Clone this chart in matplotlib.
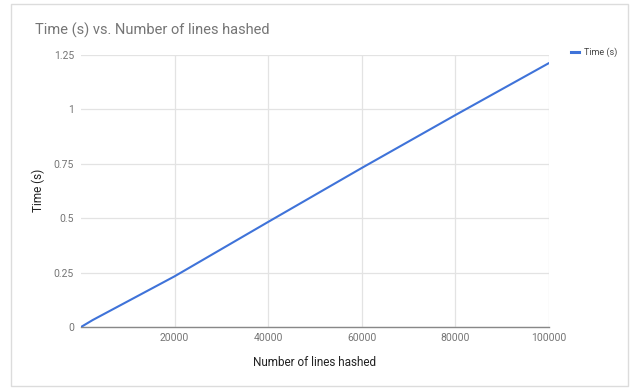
#!/usr/bin/env python3
"""Line chart: hashing time vs. number of lines hashed (Sheets-style)."""

from __future__ import annotations

import matplotlib

matplotlib.use("Agg")
import matplotlib.pyplot as plt
from matplotlib.patches import Rectangle

W, H, DPI = 632, 388, 100

lines_hashed = [0, 2500, 20000, 40000, 60000, 80000, 100000]
time_s = [0.0, 0.032, 0.233, 0.483, 0.731, 0.974, 1.213]
x_ticks = [20000, 40000, 60000, 80000, 100000]
y_ticks = [0, 0.25, 0.5, 0.75, 1.0, 1.25]
y_tick_labels = ["0", "0.25", "0.5", "0.75", "1", "1.25"]

TITLE = "Time (s) vs. Number of lines hashed"
X_LABEL = "Number of lines hashed"
Y_LABEL = "Time (s)"
SERIES = "Time (s)"

LINE_COLOR = "#3f73d9"
GRID_COLOR = "#e3e3e3"
TEXT_GRAY = "#757575"

AX_L, AX_R, AX_T, AX_B = 81, 549, 55, 327


def px(x: float, y: float) -> tuple[float, float]:
    """Pixel coords (top-left origin) -> figure fraction."""
    return x / W, 1 - y / H


def main() -> int:
    plt.rcParams["font.family"] = ["Roboto", "DejaVu Sans"]
    fig = plt.figure(figsize=(W / DPI, H / DPI), dpi=DPI)

    left, bottom = px(AX_L, AX_B)
    right, top = px(AX_R, AX_T)
    ax = fig.add_axes([left, bottom, right - left, top - bottom])

    ax.plot(lines_hashed, time_s, color=LINE_COLOR, linewidth=1.5, solid_capstyle="round", zorder=3)

    ax.set_xlim(0, 100000)
    ax.set_ylim(0, 1.25)
    ax.set_xticks(x_ticks)
    ax.set_xticklabels([str(v) for v in x_ticks])
    ax.set_yticks(y_ticks)
    ax.set_yticklabels(y_tick_labels)
    ax.grid(True, color=GRID_COLOR, linewidth=0.9, zorder=0)
    ax.tick_params(length=0, labelsize=7.5, colors=TEXT_GRAY)
    ax.tick_params(axis="x", pad=4)
    ax.tick_params(axis="y", pad=5)
    for name in ("top", "right", "left"):
        ax.spines[name].set_visible(False)
    ax.spines["bottom"].set_color("#888888")
    ax.spines["bottom"].set_linewidth(1.0)

    w_px, h_px = AX_R - AX_L, AX_B - AX_T
    ax.set_xlabel(X_LABEL, fontsize=8.5, color="#222222")
    ax.xaxis.set_label_coords((315 - AX_L) / w_px, (AX_B - 362) / h_px)
    ax.xaxis.label.set_va("center")
    ax.set_ylabel(Y_LABEL, fontsize=8.5, color="#222222")
    ax.yaxis.set_label_coords((38 - AX_L) / w_px, (AX_B - 190) / h_px)
    ax.yaxis.label.set_va("center")

    tx, ty = px(35, 30)
    fig.text(tx, ty, TITLE, fontsize=10.5, color=TEXT_GRAY, va="center", ha="left")

    # legend entry, top right
    lx0, ly = px(571, 52)
    lx1, _ = px(579, 52)
    fig.add_artist(plt.Line2D([lx0, lx1], [ly, ly], color=LINE_COLOR, linewidth=2.2, transform=fig.transFigure))
    ltx, _ = px(584, 52)
    fig.text(ltx, ly, SERIES, fontsize=6.5, color="#444444", va="center", ha="left")

    # outer frame of the chart card
    fx0, fy1 = px(11, 4)
    fx1, fy0 = px(628, 386)
    fig.add_artist(Rectangle((fx0, fy0), fx1 - fx0, fy1 - fy0, transform=fig.transFigure,
                             fill=False, edgecolor="#dcdcdc", linewidth=1.0))

    fig.savefig("out.png", dpi=DPI)
    plt.close(fig)
    return 0


if __name__ == "__main__":
    raise SystemExit(main())
